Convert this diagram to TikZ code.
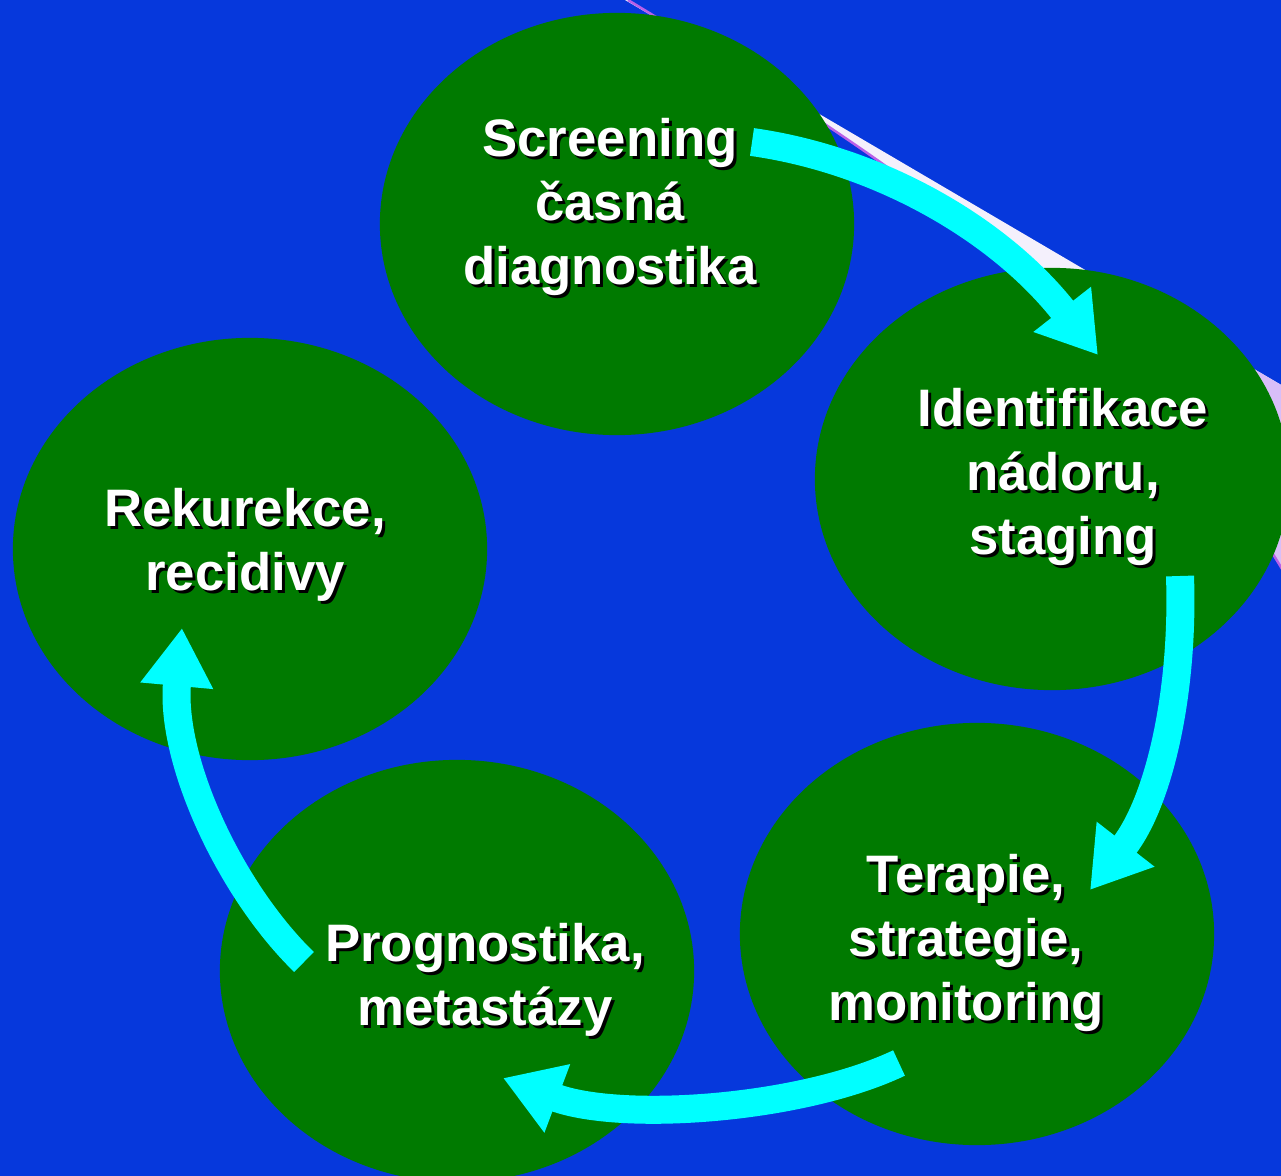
\documentclass[tikz,border=0pt]{standalone}
\usepackage{fontspec}
\setmainfont{Liberation Sans}
\usetikzlibrary{arrows.meta,shapes.geometric,calc}
\definecolor{bgblue}{RGB}{6,56,220}
\definecolor{cgreen}{RGB}{0,122,0}
\definecolor{arrcyan}{RGB}{0,255,255}
\definecolor{wedgelight}{RGB}{244,240,252}
\definecolor{wedgedark}{RGB}{216,190,248}
\definecolor{wedgeedge}{RGB}{184,96,232}
\begin{document}
\begin{tikzpicture}[x=0.01cm,y=-0.01cm,
  blob/.style={ellipse, fill=cgreen, inner sep=0pt, outer sep=0pt, minimum width=4.74cm, minimum height=4.22cm},
  lbl/.style={text=white, align=center, inner sep=0pt, font=\fontsize{15}{18.3}\selectfont\bfseries},
  lblshadow/.style={lbl, text=black, xshift=0.85pt, yshift=-0.85pt},
  arr/.style={draw=arrcyan, line width=0.28cm, line cap=butt, -{Triangle[length=0.58cm,width=0.69cm]}}]
\path[use as bounding box] (0,0) rectangle (1281,1176);
\fill[bgblue] (0,0) rectangle (1281,1176);
\clip (0,0) rectangle (1281,1176);
% background wedge
\fill[wedgelight]
  (625,0) -- (1300,396) -- (1300,600) .. controls (1150,330) and (900,165) .. (628,0) -- cycle;
\begin{scope}
  \clip (1180,0) rectangle (1300,1176);
  \fill[wedgedark]
    (625,0) -- (1300,396) -- (1300,600) .. controls (1150,330) and (900,165) .. (628,0) -- cycle;
\end{scope}
\draw[wedgeedge, line width=0.7pt] (628,0) .. controls (900,165) and (1150,330) .. (1300,600);
% circles
\node[blob] (c1) at (617,224) {};
\node[blob] (c2) at (1052,479) {};
\node[blob] (c3) at (977,934) {};
\node[blob] (c4) at (457,971) {};
\node[blob] (c5) at (250,549) {};
% labels
\coordinate (p1) at (610,207);
\coordinate (p2) at (1063,477);
\coordinate (p3) at (966,943);
\coordinate (p4) at (485,980);
\coordinate (p5) at (245,545);
\node[lblshadow] (t1s) at (p1) {Screening\\časná\\diagnostika};
\node[lbl] (t1) at (p1) {Screening\\časná\\diagnostika};
\node[lblshadow] (t2s) at (p2) {Identifikace\\nádoru,\\staging};
\node[lbl] (t2) at (p2) {Identifikace\\nádoru,\\staging};
\node[lblshadow] (t3s) at (p3) {Terapie,\\strategie,\\monitoring};
\node[lbl] (t3) at (p3) {Terapie,\\strategie,\\monitoring};
\node[lblshadow] (t4s) at (p4) {Prognostika,\\metastázy};
\node[lbl] (t4) at (p4) {Prognostika,\\metastázy};
\node[lblshadow] (t5s) at (p5) {Rekurekce,\\recidivy};
\node[lbl] (t5) at (p5) {Rekurekce,\\recidivy};
% arrows
\coordinate (a1s) at (752,142);
\coordinate (a1e) at (1098,355);
\coordinate (a2s) at (1180,576);
\coordinate (a2e) at (1090,890);
\coordinate (a3s) at (899,1063);
\coordinate (a3e) at (503,1078);
\coordinate (a4s) at (304,962);
\coordinate (a4e) at (182,628);
\draw[arr] (a1s) .. controls (880,160) and (1000,230) .. (a1e);
\draw[arr] (a2s) .. controls (1184,690) and (1160,800) .. (a2e);
\draw[arr] (a3s) .. controls (800,1110) and (620,1122) .. (a3e);
\draw[arr] (a4s) .. controls (230,890) and (170,760) .. (a4e);
\end{tikzpicture}
\end{document}
